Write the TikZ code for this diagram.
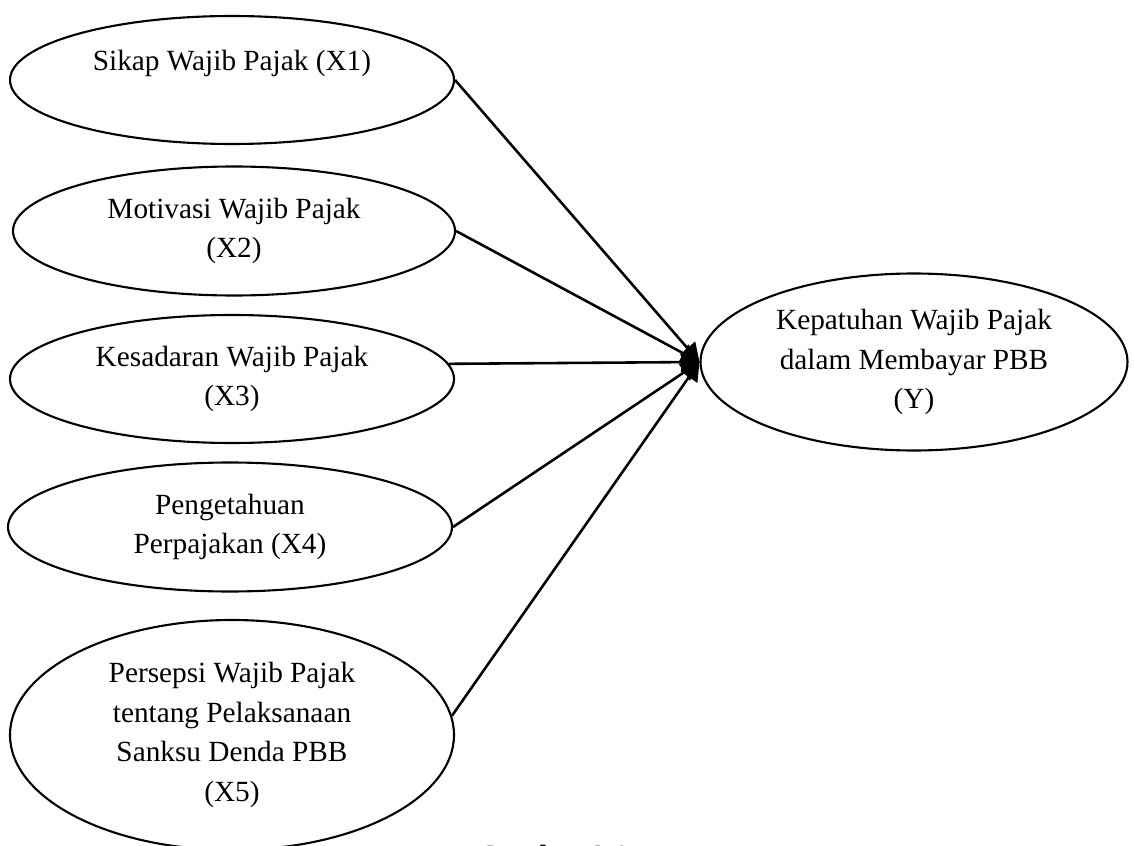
\documentclass[tikz,border=0pt]{standalone}
\usepackage{fontspec}
\setmainfont{Liberation Serif}
\usepackage{tikz}
\usetikzlibrary{shapes.geometric, arrows.meta, positioning}

\begin{document}
\begin{tikzpicture}[
    variabel/.style={ellipse, draw=black, line width=1.8pt, align=center,
                     inner sep=0pt, font=\fontsize{25}{34}\selectfont},
    arrow/.style={-{Triangle[length=0.55cm, width=0.6cm]}, line width=2.2pt, color=black}
]
\useasboundingbox (0,0) rectangle (34.02,-25.38);

\node[variabel, minimum width=13.32cm, minimum height=3.84cm] (sikap) at (6.96,-2.40) {Sikap Wajib Pajak (X1)\\ \mbox{}};
\node[variabel, minimum width=13.26cm, minimum height=3.87cm] (motivasi) at (7.02,-6.93) {Motivasi Wajib Pajak\\(X2)};
\node[variabel, minimum width=13.32cm, minimum height=3.84cm] (kesadaran) at (6.96,-11.37) {Kesadaran Wajib Pajak\\(X3)};
\node[variabel, minimum width=13.32cm, minimum height=3.87cm] (pengetahuan) at (6.90,-15.81) {Pengetahuan\\Perpajakan (X4)};
\node[variabel, minimum width=13.32cm, minimum height=6.90cm] (persepsi) at (6.96,-22.05) {Persepsi Wajib Pajak\\tentang Pelaksanaan\\Sanksu Denda PBB\\(X5)};

\node[variabel, minimum width=12.81cm, minimum height=5.31cm] (kepatuhan) at (27.42,-10.86) {Kepatuhan Wajib Pajak\\dalam Membayar PBB\\(Y)};

\draw[arrow] (sikap.east) -- (kepatuhan.west);
\draw[arrow] (motivasi.east) -- (kepatuhan.west);
\draw[arrow] (kesadaran.4) -- (kepatuhan.west);
\draw[arrow] (pengetahuan.east) -- (kepatuhan.west);
\draw[arrow] (persepsi.5) -- (kepatuhan.west);

\node[font=\fontsize{25}{30}\selectfont\bfseries, anchor=base] (gambar) at (16.59,-25.97) {Gambar 2.1};

\end{tikzpicture}
\end{document}
